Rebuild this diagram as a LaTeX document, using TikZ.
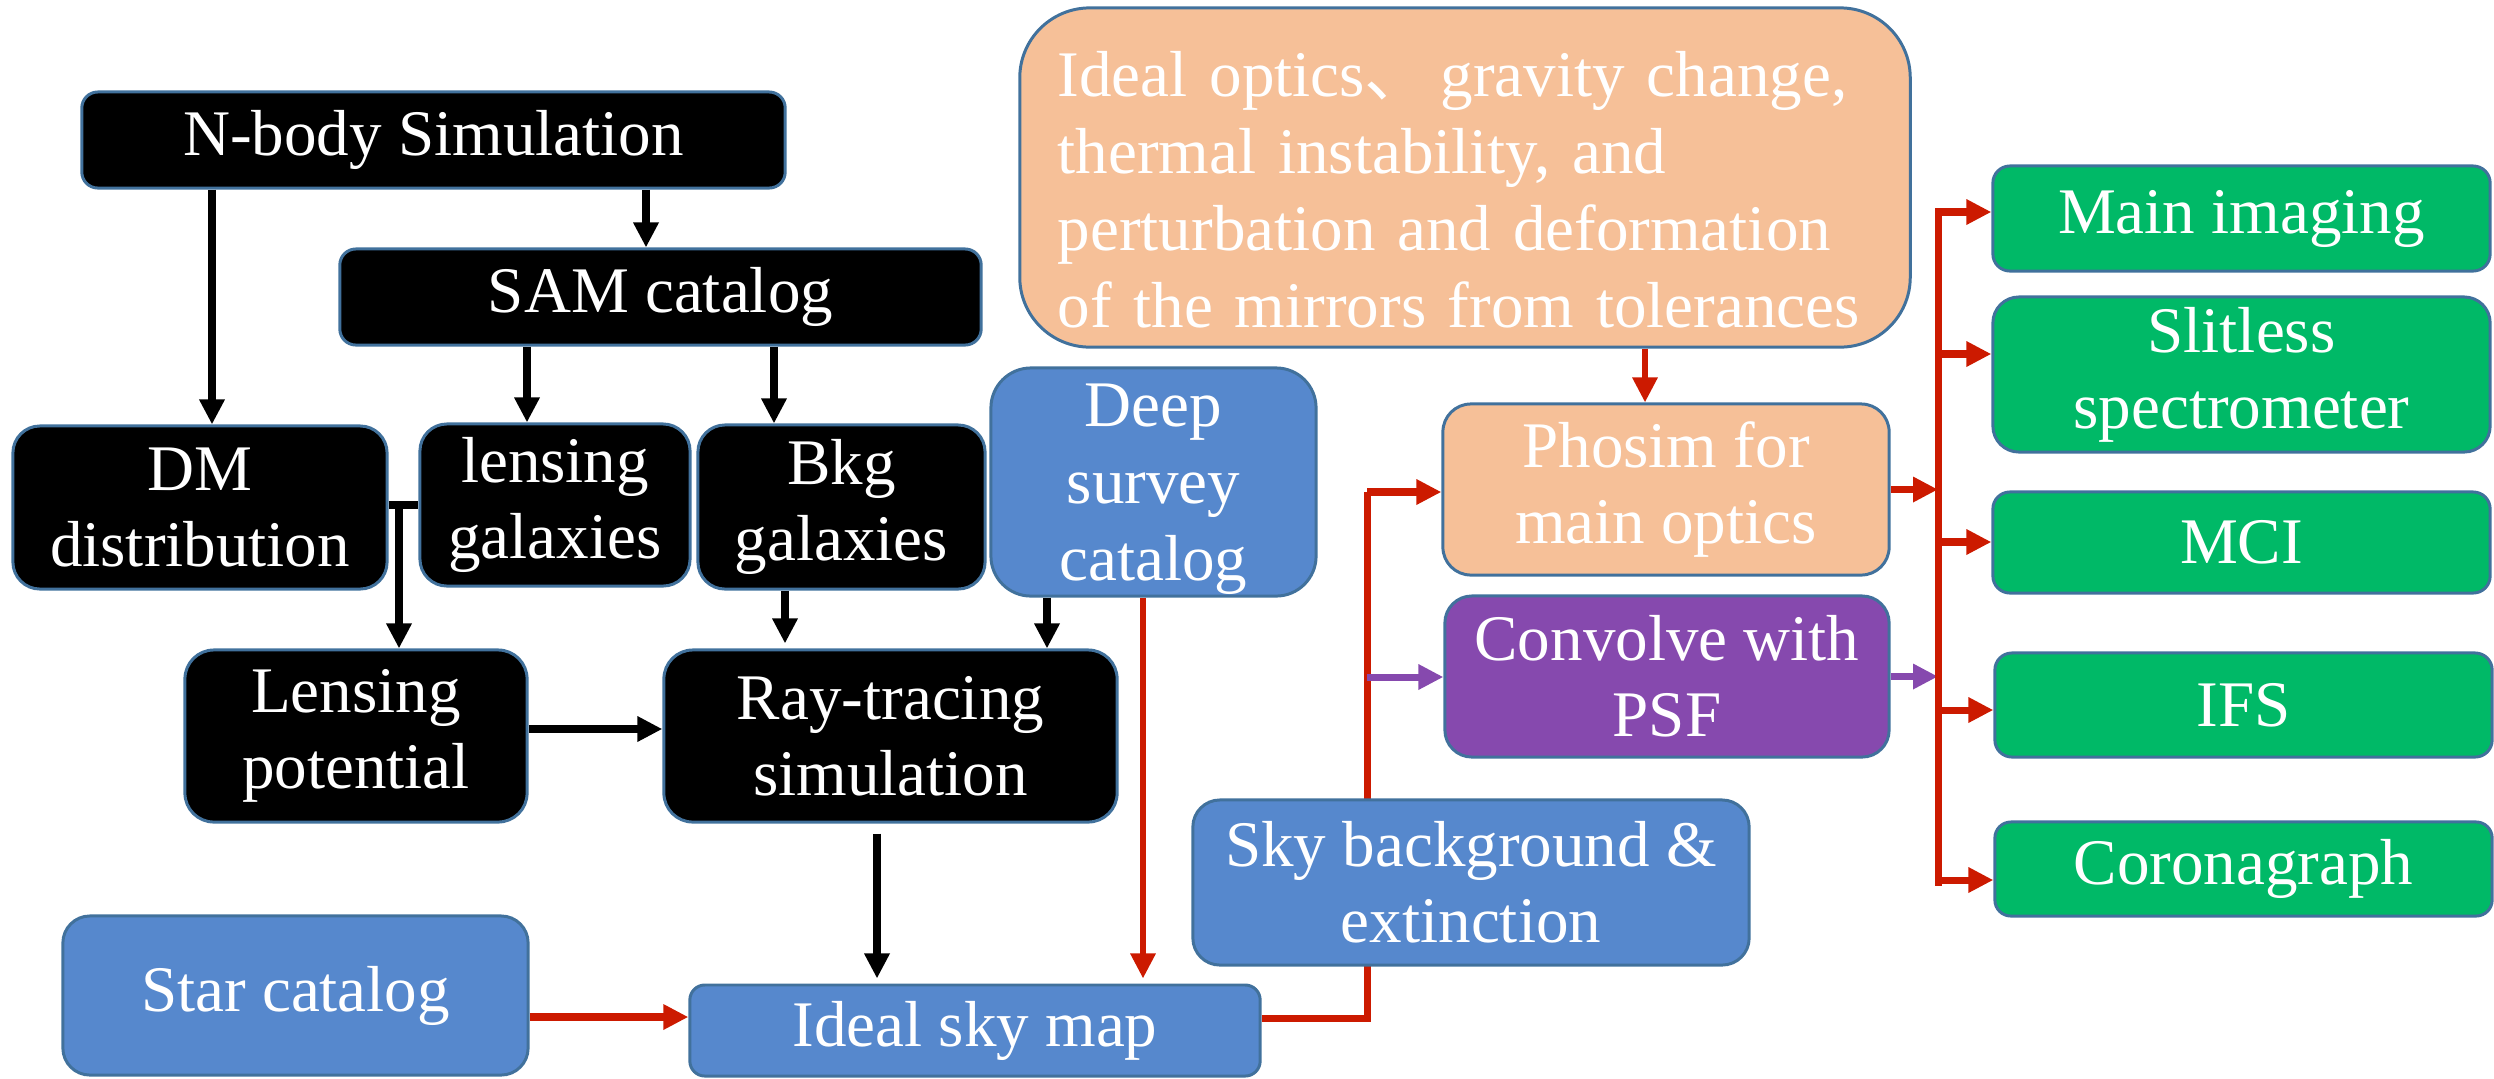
\documentclass[tikz,border=0pt]{standalone}
\usepackage{fontspec}
\setmainfont{Liberation Serif}
\newfontfamily\cjk{Noto Sans CJK SC}
\usetikzlibrary{arrows.meta}
\pgfdeclarelayer{connlayer}
\pgfsetlayers{connlayer,main}
\definecolor{bord}{RGB}{65,113,156}
\definecolor{bluef}{RGB}{86,136,205}
\definecolor{oraf}{RGB}{246,192,152}
\definecolor{purf}{RGB}{134,73,174}
\definecolor{grnf}{RGB}{0,185,103}
\definecolor{redc}{RGB}{204,26,0}
\newcommand\fz{\fontsize{18.5}{21.6}\selectfont}
\newcommand\fzb{\fontsize{18.5}{21.9}\selectfont}
\tikzset{
  base/.style={draw=bord, line width=0.85pt, text=white, inner sep=0pt, align=center, font=\fz},
  blk/.style={base, fill=black},
  blu/.style={base, fill=bluef},
  ora/.style={base, fill=oraf},
  pur/.style={base, fill=purf},
  grn/.style={base, fill=grnf},
  conn/.style={line width=2pt, line join=miter},
  ar/.style={conn, -{Triangle[length=0.25cm,width=0.24cm]}},
  blkar/.style={ar, draw=black},
  blkl/.style={conn, draw=black},
  redar/.style={ar, draw=redc},
  redl/.style={conn, draw=redc},
  purar/.style={ar, draw=purf},
}
\begin{document}
\begin{tikzpicture}[x=0.01cm,y=-0.01cm]
\useasboundingbox (0,0) rectangle (2494,1078);
% nodes
\node[blk, minimum width=7.03cm, minimum height=0.96cm, rounded corners=0.16cm] (nbody) at (433.5,140) {N-body Simulation};
\node[blk, minimum width=6.41cm, minimum height=0.96cm, rounded corners=0.16cm] (sam) at (660.5,297) {SAM catalog};
\node[blk, minimum width=3.74cm, minimum height=1.63cm, rounded corners=0.27cm] (dm) at (200,507.5) {DM\\distribution};
\node[blk, minimum width=2.70cm, minimum height=1.62cm, rounded corners=0.27cm] (lensgal) at (555,505) {lensing\\galaxies};
\node[blk, minimum width=2.87cm, minimum height=1.64cm, rounded corners=0.27cm] (bkg) at (841.5,507) {Bkg\\galaxies};
\node[blu, minimum width=3.25cm, minimum height=2.28cm, rounded corners=0.40cm, font=\fzb] (deep) at (1153.5,482) {\\[-0.2cm]Deep\\survey\\catalog};
\node[ora, minimum height=3.39cm, text width=8.14cm, inner xsep=0.38cm, align=left, rounded corners=0.70cm, font=\fzb] (optics) at (1465,177.5) {\\[-0.08cm]Ideal optics{\cjk 、}\,gravity change,\\thermal instability, and\\perturbation and deformation\\of the mirrors from tolerances};
\node[ora, minimum width=4.46cm, minimum height=1.71cm, rounded corners=0.28cm] (phosim) at (1666,489.5) {Phosim for\\main optics};
\node[pur, minimum width=4.44cm, minimum height=1.61cm, rounded corners=0.27cm] (conv) at (1667,676.5) {Convolve with\\PSF};
\node[blk, minimum width=3.42cm, minimum height=1.72cm, rounded corners=0.29cm] (lenspot) at (356,736) {Lensing\\potential};
\node[blk, minimum width=4.53cm, minimum height=1.72cm, rounded corners=0.29cm] (ray) at (890.5,736) {Ray-tracing\\simulation};
\node[blu, minimum width=4.65cm, minimum height=1.59cm, rounded corners=0.27cm] (star) at (295.5,995.5) {Star catalog};
\node[blu, minimum width=5.70cm, minimum height=0.91cm, rounded corners=0.15cm] (idealsky) at (975,1030.5) {Ideal sky map};
\node[blu, minimum width=5.56cm, minimum height=1.65cm, rounded corners=0.27cm] (skybg) at (1471,882.5) {Sky background \&\\extinction};
\node[grn, minimum width=4.97cm, minimum height=1.05cm, rounded corners=0.17cm] (main) at (2241.5,218.5) {Main imaging};
\node[grn, minimum width=4.97cm, minimum height=1.55cm, rounded corners=0.26cm] (slit) at (2241.5,374.5) {Slitless\\spectrometer};
\node[grn, minimum width=4.97cm, minimum height=1.01cm, rounded corners=0.17cm] (mci) at (2241.5,542.5) {MCI};
\node[grn, minimum width=4.97cm, minimum height=1.04cm, rounded corners=0.17cm] (ifs) at (2243.5,705) {IFS};
\node[grn, minimum width=4.97cm, minimum height=0.94cm, rounded corners=0.16cm] (coro) at (2243.5,869) {Coronagraph};
% helper coordinates
\coordinate (xa) at (212,0);
\coordinate (xb) at (646,0);
\coordinate (xc) at (527,0);
\coordinate (xd) at (774,0);
\coordinate (k1) at (399,505);
\coordinate (xe) at (785,0);
\coordinate (xf) at (1047,0);
\coordinate (xg) at (877,0);
\coordinate (xh) at (1143,0);
\coordinate (ys) at (0,1017);
\coordinate (j1) at (1367,1018);
\coordinate (j2) at (1367,492);
\coordinate (j3) at (1367,677);
\coordinate (xo) at (1645,0);
\coordinate (bt) at (1938,208);
\coordinate (bb) at (1938,886);
\coordinate (b1) at (1938,212);
\coordinate (b2) at (1938,354);
\coordinate (b3) at (1938,542);
\coordinate (b4) at (1938,710);
\coordinate (b5) at (1938,880);
\begin{pgfonlayer}{connlayer}
% black connectors
\draw[blkar] (xa |- nbody.south) -- (xa |- dm.north);
\draw[blkar] (xb |- nbody.south) -- (xb |- sam.north);
\draw[blkar] (xc |- sam.south) -- (xc |- lensgal.north);
\draw[blkar] (xd |- sam.south) -- (xd |- bkg.north);
\draw[blkl] (dm.east |- k1) -- (lensgal.west |- k1);
\draw[blkar] (k1) -- (k1 |- lenspot.north);
\draw[blkar, shorten >=0.05cm] (xe |- bkg.south) -- (xe |- ray.north);
\draw[blkar] (xf |- deep.south) -- (xf |- ray.north);
\draw[blkar, line width=2.4pt] (lenspot.east |- 0,729) -- (ray.west |- 0,729);
\draw[blkar, shorten <=0.1cm, shorten >=0.05cm] (xg |- ray.south) -- (xg |- idealsky.north);
% red / purple connectors
\draw[redar, line width=1.7pt, shorten >=0.05cm] (xh |- deep.south) -- (xh |- idealsky.north);
\draw[redar, line width=2.4pt] (star.east |- ys) -- (idealsky.west |- ys);
\draw[redl] (j1 -| idealsky.east) -- (j1) -- (j2);
\draw[redar] (j2) -- (j2 -| phosim.west);
\draw[purar] (j3) -- (j3 -| conv.west);
\draw[redar, line width=1.7pt] (xo |- optics.south) -- (xo |- phosim.north);
\draw[redar] (phosim.east) -- (phosim.east -| bt);
\draw[purar] (conv.east) -- (conv.east -| bt);
\draw[redl] (bt) -- (bb);
\draw[redar] (b1) -- (b1 -| main.west);
\draw[redar] (b2) -- (b2 -| slit.west);
\draw[redar] (b3) -- (b3 -| mci.west);
\draw[redar] (b4) -- (b4 -| ifs.west);
\draw[redar] (b5) -- (b5 -| coro.west);
\end{pgfonlayer}
\end{tikzpicture}
\end{document}
